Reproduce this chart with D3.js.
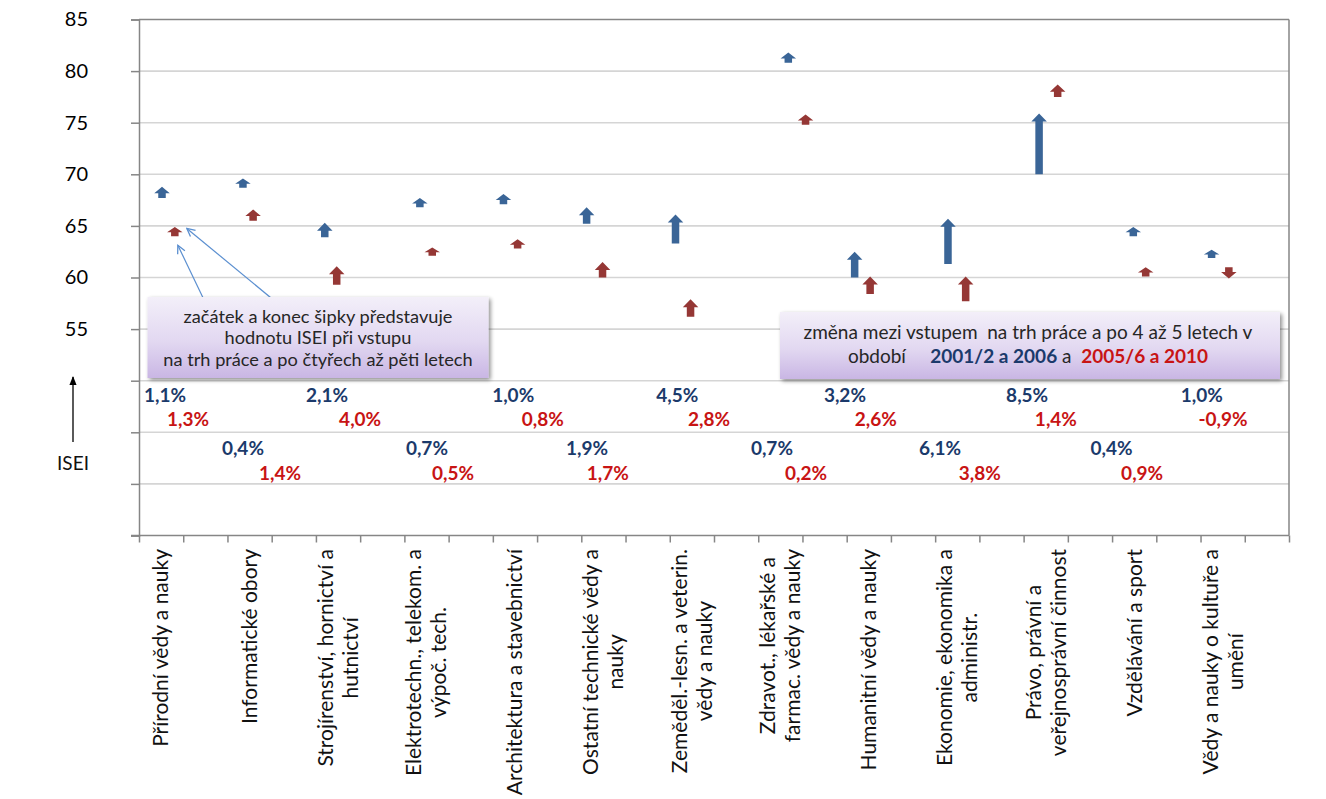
<!DOCTYPE html>
<html><head><meta charset="utf-8">
<script src="https://cdn.jsdelivr.net/npm/d3@7"></script>
<style>
body{margin:0;background:#fff}
svg{display:block}
text{font-family:Lato,"Open Sans",sans-serif}
</style>
</head><body>
<svg id="c" width="1326" height="799"></svg>
<script>
// ---- data ----
const categories = [
  ["Přírodní vědy a nauky"],
  ["Informatické obory"],
  ["Strojírenství, hornictví a", "hutnictví"],
  ["Elektrotechn., telekom. a", "výpoč. tech."],
  ["Architektura a stavebnictví"],
  ["Ostatní technické vědy a", "nauky"],
  ["Zeměděl.-lesn. a veterin.", "vědy a nauky"],
  ["Zdravot., lékařské a", "farmac. vědy a nauky"],
  ["Humanitní vědy a nauky"],
  ["Ekonomie, ekonomika a", "administr."],
  ["Právo, právní a", "veřejnosprávní činnost"],
  ["Vzdělávání a sport"],
  ["Vědy a nauky o kultuře a", "umění"]
];
// ISEI at entry (start) and after 4-5 years (end)
const blueStart = [67.7, 68.7, 63.9, 66.8, 67.1, 65.2, 63.3, 80.8, 60.0, 61.3, 70.0, 64.0, 61.9];
const blueEnd   = [68.8, 69.6, 65.3, 67.7, 68.1, 66.8, 66.1, 81.8, 62.5, 65.7, 75.9, 64.9, 62.7];
const redStart  = [64.0, 65.5, 59.3, 62.1, 62.8, 60.0, 56.2, 74.8, 58.4, 57.7, 77.5, 60.1, 61.0];
const redEnd    = [64.9, 66.6, 61.1, 62.9, 63.7, 61.5, 57.9, 75.8, 60.1, 60.1, 78.7, 61.0, 59.9];
// x positions of the arrows in sub-category units (26 sub-bands)
const blueX = [0.52, 2.35, 4.20, 6.35, 8.24, 10.12, 12.13, 14.68, 16.18, 18.29, 20.35, 22.48, 24.25];
const redX  = [0.81, 2.58, 4.47, 6.63, 8.56, 10.48, 12.47, 15.07, 16.53, 18.69, 20.77, 22.76, 24.64];
// percentage change labels
const bluePct = ["1,1%","0,4%","2,1%","0,7%","1,0%","1,9%","4,5%","0,7%","3,2%","6,1%","8,5%","0,4%","1,0%"];
const redPct  = ["1,3%","1,4%","4,0%","0,5%","0,8%","1,7%","2,8%","0,2%","2,6%","3,8%","1,4%","0,9%","-0,9%"];
const bluePctX = [0.59, 2.35, 4.25, 6.51, 8.46, 10.13, 12.17, 14.31, 15.96, 18.11, 20.08, 21.99, 24.03];
const redPctX  = [1.11, 3.19, 5.00, 7.10, 9.13, 10.60, 12.89, 15.08, 16.66, 19.01, 20.73, 22.68, 24.51];
const yTickValues = [35, 40, 45, 50, 55, 60, 65, 70, 75, 80, 85];
const yLabelMin = 55;

// ---- layout ----
const svg = d3.select("#c");
const L = 139, R = 1289, T = 19.5, B = 535.5;
const x = d3.scaleLinear().domain([0, 26]).range([L, R]);
const y = d3.scaleLinear().domain([35, 85]).range([B, T]);
const BLUE = "#3a6597", RED = "#953735";

// gridlines
svg.append("g").selectAll("line").data(yTickValues.filter(v => v > 35 && v < 85)).join("line")
  .attr("x1", L).attr("x2", R).attr("y1", d => y(d)).attr("y2", d => y(d))
  .attr("stroke", "#d5d5d5").attr("stroke-width", 1.6);

// frame top/right
svg.append("line").attr("x1", L).attr("x2", R).attr("y1", T).attr("y2", T).attr("stroke", "#868686").attr("stroke-width", 1.5);
svg.append("line").attr("x1", R).attr("x2", R).attr("y1", T).attr("y2", B).attr("stroke", "#868686").attr("stroke-width", 1.5);

// y axis
const ya = svg.append("g").attr("transform", `translate(${L},0)`)
  .call(d3.axisLeft(y).tickValues(yTickValues).tickSize(8).tickPadding(43)
    .tickFormat(d => d >= yLabelMin ? d : ""));
ya.select(".domain").attr("stroke", "#868686").attr("stroke-width", 1.5);
ya.selectAll(".tick line").attr("stroke", "#868686").attr("stroke-width", 1.5);
ya.selectAll(".tick text").attr("font-size", 20).attr("fill", "#000").attr("font-family", "Lato");

// x axis
const xa = svg.append("g").attr("transform", `translate(0,${B})`)
  .call(d3.axisBottom(x).tickValues(d3.range(0, 27)).tickSize(7).tickFormat(""));
xa.select(".domain").attr("stroke", "#868686").attr("stroke-width", 1.5).attr("d", `M${L - 8},0H${R}`);
xa.selectAll(".tick line").attr("stroke", "#868686").attr("stroke-width", 1.5);

// category labels (rotated)
const lineGap = 25, labelTop = 549, catFont = 21;
categories.forEach((lines, i) => {
  const cx = x(2 * i + 0.5);
  const g = svg.append("g");
  const texts = lines.map((ln, j) => g.append("text").text(ln)
    .attr("font-size", catFont).attr("fill", "#111").attr("text-anchor", "middle").attr("dy", "0.35em"));
  const maxLen = d3.max(texts, t => t.node().getComputedTextLength());
  texts.forEach((t, j) => {
    const tx = cx + (j - (lines.length - 1) / 2) * lineGap;
    t.attr("transform", `translate(${tx},${labelTop + maxLen / 2}) rotate(-90)`);
  });
});

// block arrows
function arrowPath(cx, s, e) {
  const y0 = y(s), y1 = y(e);
  const dir = Math.sign(y1 - y0) || -1;
  const len = Math.abs(y1 - y0);
  const hh = Math.min(8, len * 0.58), hw = 15.5, sw = 7.5;
  const hb = y1 - dir * hh;
  return d3.line()([[cx, y1], [cx + hw / 2, hb], [cx + sw / 2, hb], [cx + sw / 2, y0],
    [cx - sw / 2, y0], [cx - sw / 2, hb], [cx - hw / 2, hb]]) + "Z";
}
const arrows = svg.append("g");
arrows.selectAll(".b").data(d3.range(categories.length)).join("path").attr("class", "b")
  .attr("d", i => arrowPath(x(blueX[i]), blueStart[i], blueEnd[i])).attr("fill", BLUE);
arrows.selectAll(".r").data(d3.range(categories.length)).join("path").attr("class", "r")
  .attr("d", i => arrowPath(x(redX[i]), redStart[i], redEnd[i])).attr("fill", RED);

// percentage labels
const rowsY = [[401.5, 425.5], [454.5, 479.5]];
const pct = svg.append("g").attr("font-weight", "bold").attr("font-size", 19).attr("text-anchor", "middle");
pct.selectAll(".pb").data(d3.range(categories.length)).join("text").attr("class", "pb")
  .attr("x", i => x(bluePctX[i])).attr("y", i => rowsY[i % 2][0]).attr("fill", "#1b3a6b").text(i => bluePct[i]);
pct.selectAll(".pr").data(d3.range(categories.length)).join("text").attr("class", "pr")
  .attr("x", i => x(redPctX[i])).attr("y", i => rowsY[i % 2][1]).attr("fill", "#c81414").text(i => redPct[i]);

// defs: gradient, shadow, markers
const defs = svg.append("defs");
const grad = defs.append("linearGradient").attr("id", "bg").attr("x1", 0).attr("y1", 0).attr("x2", 0).attr("y2", 1);
grad.append("stop").attr("offset", "0%").attr("stop-color", "#f3eff9");
grad.append("stop").attr("offset", "55%").attr("stop-color", "#e2d8f1");
grad.append("stop").attr("offset", "100%").attr("stop-color", "#c9b6e4");
const f = defs.append("filter").attr("id", "sh").attr("x", "-5%").attr("y", "-10%").attr("width", "115%").attr("height", "130%");
f.append("feGaussianBlur").attr("in", "SourceAlpha").attr("stdDeviation", 2);
f.append("feOffset").attr("dx", 2).attr("dy", 2).attr("result", "ob");
f.append("feComponentTransfer").append("feFuncA").attr("type", "linear").attr("slope", 0.45);
const fm = f.append("feMerge"); fm.append("feMergeNode"); fm.append("feMergeNode").attr("in", "SourceGraphic");
defs.append("marker").attr("id", "open").attr("viewBox", "0 0 10 10").attr("refX", 9).attr("refY", 5)
  .attr("markerWidth", 10).attr("markerHeight", 10).attr("markerUnits", "userSpaceOnUse").attr("orient", "auto")
  .append("path").attr("d", "M1,1L9,5L1,9").attr("fill", "none").attr("stroke", "#5b8fd0").attr("stroke-width", 1.3);
defs.append("marker").attr("id", "blk").attr("viewBox", "0 0 10 10").attr("refX", 9).attr("refY", 5)
  .attr("markerWidth", 9).attr("markerHeight", 9).attr("markerUnits", "userSpaceOnUse").attr("orient", "auto")
  .append("path").attr("d", "M0,1L10,5L0,9Z").attr("fill", "#000");

// callout lines pointing to first red arrow
const rx0 = x(redX[0]);
svg.append("line").attr("x1", 206).attr("y1", 304).attr("x2", rx0 + 3).attr("y2", y(redStart[0]) + 9)
  .attr("stroke", "#5b8fd0").attr("stroke-width", 1.2).attr("marker-end", "url(#open)");
svg.append("line").attr("x1", 282).attr("y1", 307).attr("x2", rx0 + 12).attr("y2", y(redEnd[0]) + 1.5)
  .attr("stroke", "#5b8fd0").attr("stroke-width", 1.2).attr("marker-end", "url(#open)");

// note box 1
svg.append("rect").attr("x", 147.5).attr("y", 297).attr("width", 341).attr("height", 81)
  .attr("fill", "url(#bg)").attr("filter", "url(#sh)");
const note1 = ["začátek a konec šipky představuje", "hodnotu ISEI při vstupu", "na trh práce a po čtyřech až pěti letech"];
svg.append("g").selectAll("text").data(note1).join("text")
  .attr("x", 318).attr("y", (d, i) => 322.5 + i * 21.5).attr("text-anchor", "middle")
  .attr("font-size", 18.2).attr("fill", "#262626").text(d => d);

// note box 2
svg.append("rect").attr("x", 780).attr("y", 312).attr("width", 500).attr("height", 67)
  .attr("fill", "url(#bg)").attr("filter", "url(#sh)");
svg.append("text").attr("x", 1028).attr("y", 339).attr("text-anchor", "middle").attr("font-size", 19)
  .attr("fill", "#262626").style("white-space", "pre").text("změna mezi vstupem  na trh práce a po 4 až 5 letech v");
const t2 = svg.append("text").attr("x", 1028).attr("y", 363).attr("text-anchor", "middle").attr("font-size", 19)
  .attr("fill", "#262626").style("white-space", "pre");
t2.append("tspan").text("období     ");
t2.append("tspan").attr("font-weight", "bold").attr("fill", "#1b3a6b").text("2001/2 a 2006");
t2.append("tspan").text(" a  ");
t2.append("tspan").attr("font-weight", "bold").attr("fill", "#c81414").text("2005/6 a 2010");

// ISEI label with arrow
svg.append("line").attr("x1", 73).attr("y1", 442).attr("x2", 73).attr("y2", 377)
  .attr("stroke", "#000").attr("stroke-width", 1.3).attr("marker-end", "url(#blk)");
svg.append("text").attr("x", 73).attr("y", 470).attr("text-anchor", "middle").attr("font-size", 19).attr("fill", "#111").text("ISEI");
</script>
</body></html>
